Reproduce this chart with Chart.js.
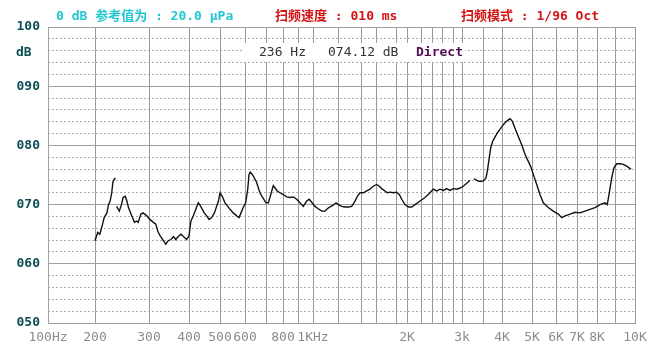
<!DOCTYPE html>
<html>
<head>
<meta charset="utf-8">
<style>
  html, body { margin: 0; padding: 0; background: #fff; }
  #wrap { width: 666px; height: 364px; }
</style>
<script src="https://cdn.jsdelivr.net/npm/chart.js@4/dist/chart.umd.min.js"></script>
</head>
<body>
<div id="wrap"><canvas id="sweep" width="666" height="364"></canvas></div>
<script>
// ── Messdaten (Frequenzgang, 1/96 Oct Sweep) ───────────────────────────────

const FREQ_HZ = [
    200, 205, 209, 214, 217, 222, 225, 228, 231, 233, 235, 238, 239,
    240, 245, 249, 252, 256, 259, 262, 268, 273, 277, 280, 285, 289, 296,
    302, 311, 317, 322, 328, 336, 342, 348, 355, 361, 367, 373, 380, 386, 394,
    400, 406, 414, 422, 430, 438, 443, 449, 457, 465, 473, 482, 489, 495,
    500, 509, 520, 531, 540, 553, 567, 576, 584, 593,
    603, 613, 619, 625, 640, 656, 671, 684,
    700, 714, 728, 743, 753, 766, 782, 802, 825, 847, 869, 891,
    913, 935, 958, 975, 991,
    1016, 1042, 1070, 1096, 1114, 1136, 1162, 1184, 1203, 1232, 1261, 1290, 1319,
    1348, 1368, 1391, 1431, 1476, 1520, 1564, 1607, 1633, 1657, 1690, 1713, 1740,
    1773, 1813, 1860, 1904, 1964, 2019, 2067, 2114, 2186, 2273, 2364, 2426, 2494,
    2560, 2624, 2685, 2745, 2807, 2882, 2956, 3031, 3112, 3190, 3230,
    3286, 3350, 3429, 3508, 3579, 3613, 3658, 3703, 3755, 3816, 3876, 3947,
    4043, 4157, 4267, 4343, 4433, 4543, 4657, 4767, 4877, 4967,
    5054, 5196, 5333, 5471, 5679, 5888, 6110, 6271, 6429, 6667, 6905,
    7150, 7400, 7650, 7900, 8167, 8444, 8572, 8683, 8817, 8944,
    9085, 9250, 9415, 9585, 9800,
];

const LEVEL_DB = [
    63.9, 65.3, 65.0, 66.7, 67.8, 68.6, 70.0, 70.6, 72.0, 73.7, 74.2, 74.5, null,
    69.7, 68.9, 70.0, 71.2, 71.4, 70.6, 69.5, 68.1, 67.0, 67.2, 67.0, 68.4, 68.6, 68.1,
    67.5, 67.0, 66.7, 65.5, 64.7, 63.9, 63.3, 63.9, 64.1, 64.6, 64.1, 64.6, 65.0, 64.6, 64.1,
    64.7, 67.2, 68.1, 69.2, 70.3, 69.7, 69.2, 68.6, 68.1, 67.5, 67.8, 68.6, 69.7, 70.6,
    72.0, 71.4, 70.3, 69.7, 69.2, 68.6, 68.1, 67.8, 68.6, 69.5,
    70.3, 72.6, 75.1, 75.5, 74.8, 73.7, 72.0, 71.2,
    70.3, 70.3, 71.7, 73.2, 72.8, 72.3, 72.0, 71.7, 71.3, 71.2, 71.3, 70.9,
    70.3, 69.7, 70.6, 70.9, 70.4,
    69.7, 69.3, 68.9, 68.9, 69.3, 69.6, 69.9, 70.3, 70.0, 69.7, 69.6, 69.6, 69.7,
    70.6, 71.4, 72.0, 72.0, 72.3, 72.6, 73.1, 73.4, 73.1, 72.7, 72.3, 72.0, 72.1,
    72.0, 72.1, 71.7, 70.9, 70.0, 69.6, 69.6, 70.0, 70.6, 71.2, 72.0, 72.6, 72.3,
    72.6, 72.4, 72.7, 72.4, 72.7, 72.6, 72.8, 73.1, 73.6, 74.1, null,
    74.4, 74.1, 73.9, 74.0, 74.5, 75.6, 77.6, 79.6, 80.7, 81.4, 82.1, 82.7,
    83.5, 84.1, 84.5, 84.1, 82.9, 81.5, 80.1, 78.5, 77.3, 76.3,
    75.1, 73.4, 71.7, 70.3, 69.5, 68.9, 68.4, 67.8, 68.1, 68.4, 68.7,
    68.6, 68.9, 69.2, 69.5, 70.0, 70.3, 70.0, 72.0, 74.5, 76.2,
    76.9, 76.9, 76.8, 76.5, 76.0,
];

// Gitterlinien der Frequenzachse und ihre Beschriftung
const GRID_HZ = [
    100, 200, 300, 400, 500, 600, 700, 800, 900, 1000,
    1200, 1400, 1600, 1800, 2000, 2200, 2400, 2600, 2800, 3000,
    3500, 4000, 5000, 6000, 7000, 8000, 9000, 10000,
];
const GRID_LABELS = [
    '100Hz', '200', '300', '400', '500', '600', '', '800', '', '1KHz',
    '', '', '', '', '2K', '', '', '', '', '3k',
    '', '4K', '5K', '6K', '7K', '8K', '', '10K',
];

// Lage der Gitterlinien entlang der Achse (Geräte-eigene, nicht-logarithmische Teilung)
const AXIS_STOPS = [
    0, 47, 101, 141, 172, 197, 218, 235, 250, 265,
    290, 313, 328, 348, 359, 373, 384, 394, 405, 414,
    435, 454, 484, 508, 529, 549, 567, 587,
];

const DB_MIN = 50;
const DB_MAX = 100;

// ── Frequenzachse des Analysators ──────────────────────────────────────────

function hzToDecimal(hz) {
    const last = AXIS_STOPS[AXIS_STOPS.length - 1];
    if (hz <= GRID_HZ[0]) return 0;
    for (let i = 0; i < GRID_HZ.length - 1; i++) {
        if (hz <= GRID_HZ[i + 1]) {
            const t = (hz - GRID_HZ[i]) / (GRID_HZ[i + 1] - GRID_HZ[i]);
            return (AXIS_STOPS[i] + t * (AXIS_STOPS[i + 1] - AXIS_STOPS[i])) / last;
        }
    }
    return 1;
}

function decimalToHz(dec) {
    const pos = dec * AXIS_STOPS[AXIS_STOPS.length - 1];
    for (let i = 0; i < AXIS_STOPS.length - 1; i++) {
        if (pos <= AXIS_STOPS[i + 1]) {
            const t = (pos - AXIS_STOPS[i]) / (AXIS_STOPS[i + 1] - AXIS_STOPS[i]);
            return GRID_HZ[i] + t * (GRID_HZ[i + 1] - GRID_HZ[i]);
        }
    }
    return GRID_HZ[GRID_HZ.length - 1];
}

const LinearScale = Chart.registry.getScale('linear');

class BandScale extends LinearScale {
    buildTicks() {
        return GRID_HZ.map(value => ({ value }));
    }
    getPixelForValue(value) {
        return this.getPixelForDecimal(hzToDecimal(value));
    }
    getValueForPixel(pixel) {
        return decimalToHz(this.getDecimalForPixel(pixel));
    }
}
BandScale.id = 'band';
BandScale.defaults = LinearScale.defaults;
Chart.register(BandScale);

// ── Kopfzeile, Messwert-Box, Hintergrund ───────────────────────────────────

const MONO = '"DejaVu Sans Mono", "Noto Sans CJK SC", monospace';
const AXIS_TEAL = '#0d4f57';
const GRID_GRAY = '#a2a2a2';

const panelPlugin = {
    id: 'panel',
    beforeDraw(chart) {
        const ctx = chart.ctx;
        ctx.save();
        ctx.fillStyle = '#ffffff';
        ctx.fillRect(0, 0, chart.width, chart.height);
        ctx.restore();
    },
    afterDraw(chart) {
        const ctx = chart.ctx;
        ctx.save();
        ctx.textBaseline = 'middle';
        ctx.textAlign = 'left';

        ctx.font = 'bold 13px ' + MONO;
        ctx.fillStyle = '#22c6d0';
        ctx.fillText('0 dB 参考值为 : 20.0 μPa', 56, 17);
        ctx.fillStyle = '#d41414';
        ctx.fillText('扫频速度 : 010 ms', 275, 17);
        ctx.fillText('扫频模式 : 1/96 Oct', 461, 17);

        ctx.fillStyle = AXIS_TEAL;
        ctx.fillText('dB', 16, 53);

        // Cursor-Anzeige
        ctx.fillStyle = '#ffffff';
        ctx.fillRect(244, 43, 221, 19);
        ctx.font = '13px ' + MONO;
        ctx.fillStyle = '#333333';
        ctx.fillText('236 Hz', 259, 53);
        ctx.fillText('074.12 dB', 328, 53);
        ctx.font = 'bold 13px ' + MONO;
        ctx.fillStyle = '#520c52';
        ctx.fillText('Direct', 416, 53);
        ctx.restore();
    },
};

// ── Chart ──────────────────────────────────────────────────────────────────

const points = FREQ_HZ.map((hz, i) => ({ x: hz, y: LEVEL_DB[i] }));

new Chart(document.getElementById('sweep'), {
    type: 'line',
    data: {
        datasets: [{
            label: 'SPL',
            data: points,
            borderColor: '#121212',
            borderWidth: 1.4,
            pointRadius: 0,
            tension: 0,
            spanGaps: false,
            fill: false,
        }],
    },
    options: {
        responsive: false,
        animation: false,
        events: [],
        layout: { padding: { top: 27, right: 31, left: 0, bottom: 0 } },
        plugins: {
            legend: { display: false },
            tooltip: { enabled: false },
        },
        scales: {
            x: {
                type: 'band',
                min: GRID_HZ[0],
                max: GRID_HZ[GRID_HZ.length - 1],
                afterFit(scale) { scale.height = 41; },
                grid: { color: '#999999', lineWidth: 1, drawTicks: false },
                border: { color: '#999999' },
                ticks: {
                    autoSkip: false,
                    maxRotation: 0,
                    padding: 7,
                    color: '#8c8c8c',
                    font: { family: MONO, size: 13 },
                    callback(value, index) { return GRID_LABELS[index]; },
                },
            },
            yMinor: {
                type: 'linear',
                position: 'left',
                min: DB_MIN,
                max: DB_MAX,
                afterFit(scale) { scale.width = 0; },
                grid: {
                    drawTicks: false,
                    color: ctx => (ctx.tick && ctx.tick.value % 10 === 0) ? 'rgba(0,0,0,0)' : '#ababab',
                },
                border: { display: false, dash: [2, 2] },
                ticks: { display: false, stepSize: 2 },
            },
            y: {
                type: 'linear',
                position: 'left',
                min: DB_MIN,
                max: DB_MAX,
                afterFit(scale) { scale.width = 48; },
                grid: { color: GRID_GRAY, drawTicks: false },
                border: { color: GRID_GRAY },
                ticks: {
                    stepSize: 10,
                    padding: 8,
                    color: AXIS_TEAL,
                    font: { family: MONO, size: 13, weight: 'bold' },
                    callback(value) { return String(value).padStart(3, '0'); },
                },
            },
        },
    },
    plugins: [panelPlugin],
});
</script>
</body>
</html>
